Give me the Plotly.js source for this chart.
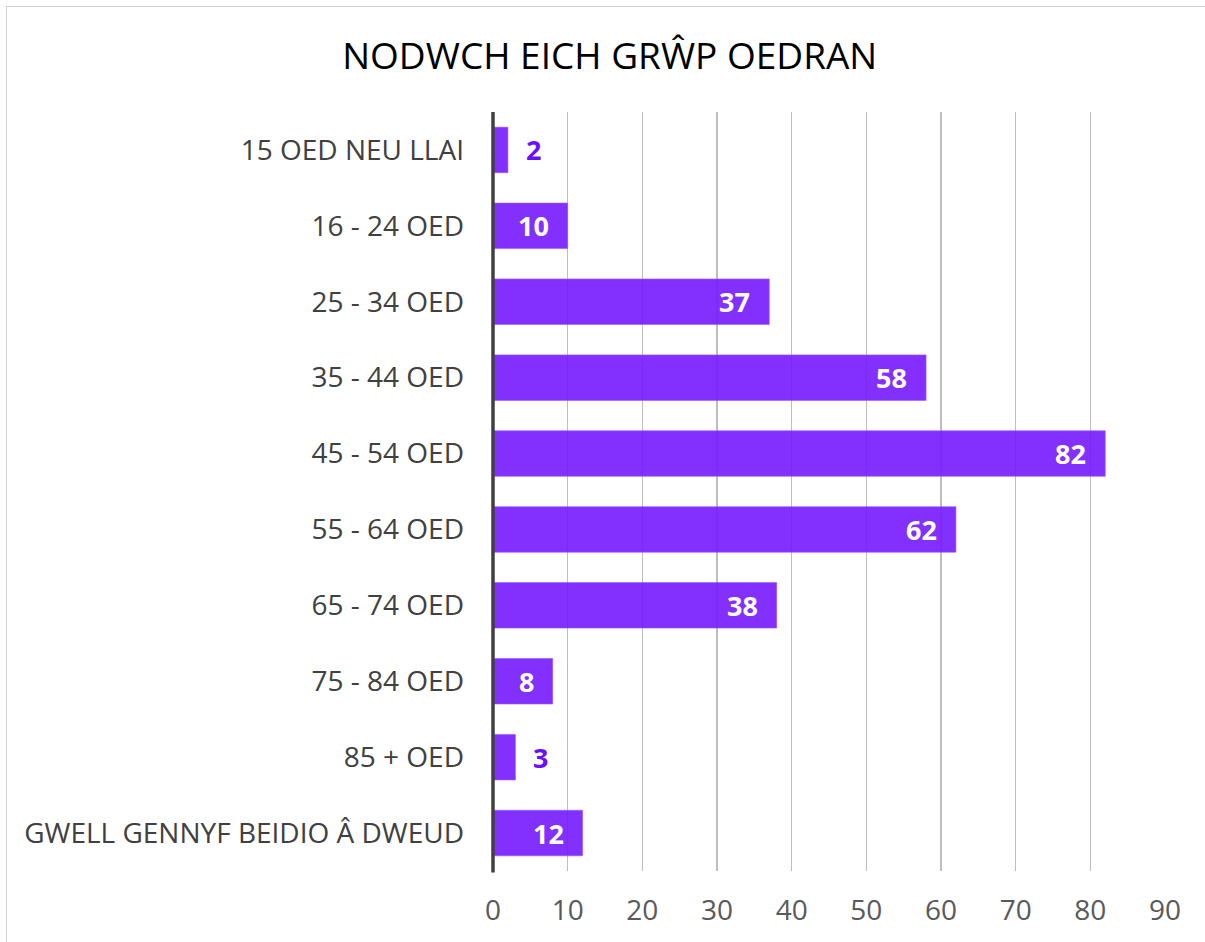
<!DOCTYPE html>
<html>
<head>
<meta charset="utf-8">
<script src="https://cdn.plot.ly/plotly-3.0.1.min.js"></script>
<style>
html,body{margin:0;padding:0;background:#fff;}
#chart{width:1205px;height:942px;position:absolute;left:0;top:0;}
#frame{position:absolute;left:6px;top:6px;width:1205px;height:942px;border:1px solid #d0d0d0;pointer-events:none;}
</style>
</head>
<body>
<div id="chart"></div>
<div id="frame"></div>
<script>
const categories = ["15 OED NEU LLAI","16 - 24 OED","25 - 34 OED","35 - 44 OED","45 - 54 OED","55 - 64 OED","65 - 74 OED","75 - 84 OED","85 + OED","GWELL GENNYF BEIDIO Â DWEUD"];
const values = [2,10,37,58,82,62,38,8,3,12];
const tickVals = [0,10,20,30,40,50,60,70,80,90];

const FONT = "Open Sans, Noto Sans, sans-serif";
const barColor = "rgba(118,26,255,0.9)";

const trace = {
  type: "bar",
  orientation: "h",
  x: values,
  y: categories,
  width: 0.6,
  marker: {color: barColor, line: {color: "rgba(150,90,255,0.6)", width: 1}},
  hoverinfo: "none"
};

const annotations = values.map((v, i) => {
  const outside = v < 5;
  return {
    x: v, y: categories[i], xref: "x", yref: "y",
    text: "<b>" + v + "</b>",
    showarrow: false,
    xanchor: outside ? "left" : "right",
    xshift: outside ? 16 : -17,
    font: {family: FONT, size: 27, color: outside ? "#6a10ff" : "#ffffff"}
  };
});

const layout = {
  width: 1205, height: 942,
  margin: {l: 493, r: 40, t: 112, b: 71},
  paper_bgcolor: "#ffffff", plot_bgcolor: "#ffffff",
  showlegend: false,
  title: {text: "NODWCH EICH GRŴP OEDRAN", x: 0.506, xanchor: "center", y: 0.94, yanchor: "middle",
          font: {family: FONT, size: 37, color: "#000000"}},
  xaxis: {
    range: [0, 90], tickvals: tickVals, ticktext: tickVals.map(String),
    showgrid: true, gridcolor: "#bdbdbd", gridwidth: 1.5,
    zeroline: false, showline: false, ticks: "",
    ticklabelstandoff: 20,
    tickfont: {family: FONT, size: 28, color: "#595959"},
    fixedrange: true
  },
  yaxis: {
    type: "category", autorange: "reversed",
    showgrid: false, zeroline: false, showline: false, ticks: "",
    ticklabelstandoff: 28,
    tickfont: {family: FONT, size: 28, color: "#404040"},
    fixedrange: true
  },
  shapes: [{type: "line", xref: "paper", yref: "paper", x0: 0, x1: 0, y0: -0.002, y1: 1,
            layer: "above", line: {color: "#404040", width: 3.5}}],
  annotations: annotations
};

Plotly.newPlot("chart", [trace], layout, {staticPlot: true, displayModeBar: false});
</script>
</body>
</html>
